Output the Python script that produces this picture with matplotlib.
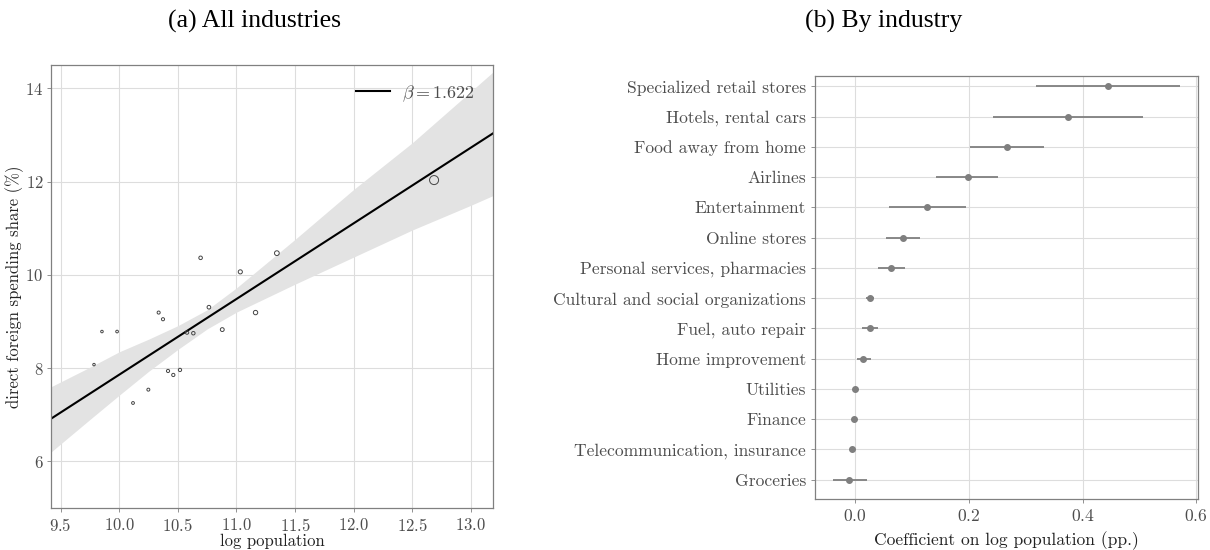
import numpy as np
import matplotlib
matplotlib.use('Agg')
import matplotlib.pyplot as plt

plt.rcParams['font.family'] = ['cmr10', 'DejaVu Serif']
plt.rcParams['mathtext.fontset'] = 'cm'
plt.rcParams['axes.formatter.use_mathtext'] = True

# (a) cities: log population vs direct foreign spending share
log_pop = [9.784, 9.852, 9.981, 10.117, 10.248, 10.336, 10.373, 10.416, 10.461, 10.518,
           10.578, 10.632, 10.694, 10.765, 10.879, 11.033, 11.163, 11.345, 12.687]
share = [8.075, 8.784, 8.784, 7.252, 7.538, 9.191, 9.048, 7.939, 7.853, 7.961,
         8.762, 8.748, 10.365, 9.306, 8.826, 10.064, 9.191, 10.465, 12.032]
beta = 1.622
intercept = -8.36
# confidence band
band_x = [9.417, 9.75, 10.0, 10.25, 10.5, 10.75, 11.0, 11.5, 12.0, 12.5, 13.0, 13.19]
band_lo = [6.20, 6.90, 7.42, 7.93, 8.40, 8.84, 9.20, 9.80, 10.38, 10.96, 11.49, 11.70]
band_hi = [7.60, 8.02, 8.35, 8.62, 8.91, 9.25, 9.72, 10.76, 11.83, 12.83, 13.93, 14.35]

# (b) coefficient by industry
industries = ['Specialized retail stores', 'Hotels, rental cars', 'Food away from home',
              'Airlines', 'Entertainment', 'Online stores', 'Personal services, pharmacies',
              'Cultural and social organizations', 'Fuel, auto repair', 'Home improvement',
              'Utilities', 'Finance', 'Telecommunication, insurance', 'Groceries']
coef = [0.445, 0.374, 0.267, 0.198, 0.127, 0.085, 0.064, 0.026, 0.026, 0.015, 0.000, -0.001, -0.005, -0.010]
ci_lo = [0.319, 0.243, 0.203, 0.142, 0.060, 0.054, 0.040, 0.020, 0.012, 0.004, -0.003, -0.004, -0.009, -0.039]
ci_hi = [0.572, 0.506, 0.333, 0.252, 0.195, 0.115, 0.088, 0.033, 0.040, 0.028, 0.003, 0.002, -0.001, 0.021]

fig = plt.figure(figsize=(12.1, 5.5), dpi=100)
ax1 = fig.add_axes([51 / 1210, 42 / 550, 442 / 1210, 443 / 550])
ax2 = fig.add_axes([815 / 1210, 51 / 550, 383 / 1210, 423 / 550])

grid_col = '#dddddd'
border_col = '#808080'
text_col = '#4d4d4d'

def style(ax, size):
    for s in ax.spines.values():
        s.set_color(border_col)
        s.set_linewidth(0.9)
    ax.grid(True, color=grid_col, linewidth=0.8)
    ax.set_axisbelow(True)
    ax.tick_params(colors=border_col, labelcolor=text_col, labelsize=size, length=3, width=0.6)

# panel a
x = np.array(log_pop)
pop = np.exp(x)
sizes = 3.2 + 39 * (pop - pop.min()) / (pop.max() - pop.min())
xl = (9.417, 13.19)
ax1.fill_between(band_x, band_lo, band_hi, color='#e3e3e3', linewidth=0, zorder=1)
xx = np.array(xl)
ax1.plot(xx, intercept + beta * xx, color='black', lw=1.5, zorder=2,
         label=r'$\beta = %.3f$' % beta)
ax1.scatter(x, share, s=sizes, facecolors='none', edgecolors='#444444', linewidths=0.7, zorder=3)
ax1.set_xlim(xl)
ax1.set_ylim(5.0, 14.5)
ax1.set_xticks([9.5, 10.0, 10.5, 11.0, 11.5, 12.0, 12.5, 13.0])
ax1.set_yticks([6, 8, 10, 12, 14])
style(ax1, 12)
ax1.tick_params(axis='y', pad=2.5)
ax1.set_xlabel('log population', fontsize=12, color='#222222', labelpad=0)
ax1.set_ylabel('direct foreign spending share (%)', fontsize=12, color='#222222')
ax1.yaxis.set_label_coords(-0.062, 0.5)
ax1.legend(loc='upper right', frameon=False, fontsize=13, handlelength=1.9,
           handletextpad=0.65, borderaxespad=0.6, labelcolor=text_col)

# panel b
ypos = np.arange(len(industries))[::-1]
c = np.array(coef)
ax2.errorbar(c, ypos, xerr=[c - np.array(ci_lo), np.array(ci_hi) - c], fmt='o',
             color='#7f7f7f', ms=4, elinewidth=1.3, capsize=0, zorder=3)
ax2.set_yticks(ypos)
ax2.set_yticklabels(industries)
ax2.set_ylim(-0.64, 13.34)
ax2.set_xlim(-0.0702, 0.603)
ax2.set_xticks([0.0, 0.2, 0.4, 0.6])
style(ax2, 12.6)
ax2.set_xlabel('Coefficient on log population (pp.)', fontsize=12.6, color='#222222', labelpad=5)

fig.text(255 / 1210, 1 - 21 / 550, '(a) All industries', ha='center', va='center',
         fontsize=18.5, family='Liberation Serif')
fig.text(884 / 1210, 1 - 21 / 550, '(b) By industry', ha='center', va='center',
         fontsize=18.5, family='Liberation Serif')

fig.savefig('out.png', dpi=100)
